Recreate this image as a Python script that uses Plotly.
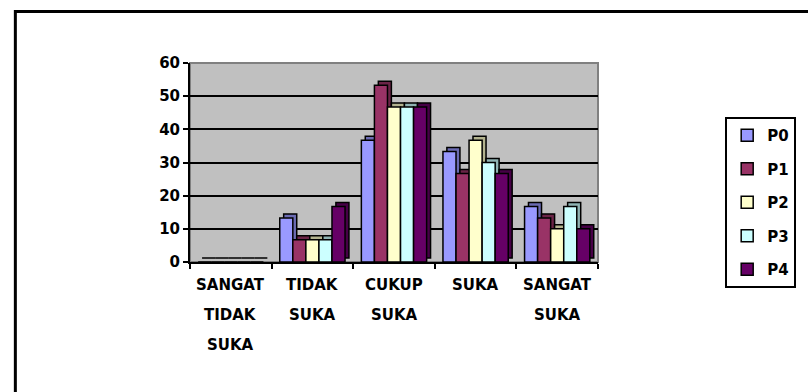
import plotly.graph_objects as go

categories = ["SANGAT TIDAK SUKA", "TIDAK SUKA", "CUKUP SUKA", "SUKA", "SANGAT SUKA"]
series_names = ["P0", "P1", "P2", "P3", "P4"]
p0 = [0, 13.3, 36.7, 33.3, 16.7]
p1 = [0, 6.7, 53.3, 26.7, 13.3]
p2 = [0, 6.7, 46.7, 36.7, 10.0]
p3 = [0, 6.7, 46.7, 30.0, 16.7]
p4 = [0, 16.7, 46.7, 26.7, 10.0]
y_ticks = [0, 10, 20, 30, 40, 50, 60]

series_values = [p0, p1, p2, p3, p4]
colors = ["#9999FF", "#993366", "#FFFFCC", "#CCFFFF", "#660066"]
side_colors = ["#6B6BB3", "#6B2447", "#B3B38F", "#8FB3B3", "#470047"]

FONT = "DejaVu Sans"
W, H = 808, 392
ML, MR, MT, MB = 190, 201, 63, 130
pw = W - ML - MR
ph = H - MT - MB

# style constants for the pseudo-3D look
BAR_W = 0.16
GROUP_START = -0.4
DEPTH_X = 4.0 / (pw / len(categories))
DEPTH_Y = 4.0 * 60 / ph

fig = go.Figure()
# depth faces (drawn first, behind)
for i, (name, vals) in enumerate(zip(series_names, series_values)):
    fig.add_trace(go.Bar(
        x=categories, y=vals, name=name, base=DEPTH_Y,
        width=BAR_W, offset=GROUP_START + i * BAR_W + DEPTH_X,
        marker=dict(color=side_colors[i], line=dict(color="black", width=1.5)),
        showlegend=False, hoverinfo="skip", legendgroup=name,
    ))
# front faces
for i, (name, vals) in enumerate(zip(series_names, series_values)):
    fig.add_trace(go.Bar(
        x=categories, y=vals, name=name,
        width=BAR_W, offset=GROUP_START + i * BAR_W,
        marker=dict(color=colors[i], line=dict(color="black", width=1.5)),
        legendgroup=name,
    ))

annotations = []
for cat in categories:
    for j, word in enumerate(cat.split(" ")):
        annotations.append(dict(
            x=cat, xref="x", y=0, yref="paper", yanchor="middle", xanchor="center",
            yshift=-(23 + 30 * j), text="<b>%s</b>" % word, showarrow=False,
            font=dict(family=FONT, size=15, color="black"),
        ))

shapes = [
    dict(type="rect", xref="paper", yref="paper",
         x0=(11.5 - ML) / pw, x1=2.0, y0=-2.0, y1=(H - MB - 11.5) / ph,
         line=dict(color="black", width=3), fillcolor="rgba(0,0,0,0)", layer="below"),
    dict(type="rect", xref="paper", yref="paper", x0=0, x1=1, y0=0, y1=1,
         line=dict(color="#808080", width=2), fillcolor="rgba(0,0,0,0)", layer="below"),
]

fig.update_layout(
    width=W, height=H,
    margin=dict(l=ML, r=MR, t=MT, b=MB, pad=0),
    paper_bgcolor="white", plot_bgcolor="#C0C0C0",
    barmode="overlay",
    font=dict(family=FONT, size=15, color="black"),
    showlegend=True,
    legend=dict(
        x=(737 - ML) / pw, y=(H - MB - 117) / ph, xanchor="left", yanchor="top",
        bgcolor="white", bordercolor="black", borderwidth=2,
        font=dict(family=FONT, size=15, color="black", weight="bold"),
        tracegroupgap=11, itemwidth=30,
    ),
    annotations=annotations,
    shapes=shapes,
)
fig.update_xaxes(
    showticklabels=False, ticks="outside", tickson="boundaries", ticklen=5,
    tickcolor="black", tickwidth=1.5, range=[-0.5, len(categories) - 0.5],
    showline=True, linecolor="black", linewidth=2, showgrid=False,
)
fig.update_yaxes(
    range=[0, 60], tickvals=y_ticks, ticks="outside", ticklen=5,
    tickcolor="black", tickwidth=1.5,
    tickfont=dict(family=FONT, size=15, color="black", weight="bold"),
    showline=True, linecolor="black", linewidth=2,
    showgrid=True, gridcolor="black", gridwidth=1.5, zeroline=False,
)

fig.write_html("out.html")
